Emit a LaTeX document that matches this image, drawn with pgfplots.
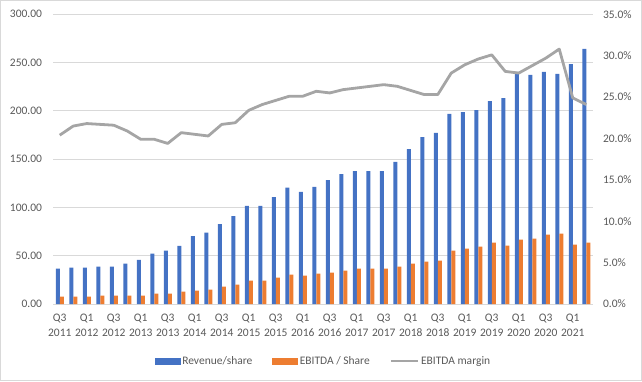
\documentclass[border=0pt]{standalone}
\usepackage{pgfplots}
\usepackage{pgfplotstable}
\pgfplotsset{compat=1.18}
\usepackage{fontspec}
\setmainfont{Carlito}
\definecolor{blueC}{HTML}{4472C4}
\definecolor{orangeC}{HTML}{ED7D31}
\definecolor{grayC}{HTML}{A5A5A5}
\definecolor{gridC}{HTML}{D9D9D9}
\definecolor{txtC}{HTML}{595959}

\pgfplotstableread{
x rev ebitda margin
1 36.6 7.6 20.4
2 37.6 7.6 21.5
3 37.6 7.6 21.8
4 38.7 8.6 21.7
5 38.7 8.6 21.6
6 41.8 8.6 20.9
7 45.6 8.6 19.9
8 52.1 10.7 19.9
9 55.2 10.7 19.4
10 60.1 12.8 20.7
11 70.4 13.8 20.5
12 73.9 14.8 20.3
13 82.8 18.0 21.7
14 91.1 20.0 21.9
15 101.5 24.2 23.4
16 101.5 24.2 24.1
17 110.8 27.3 24.6
18 120.5 30.4 25.1
19 116.0 29.3 25.1
20 121.2 31.4 25.7
21 128.4 32.4 25.5
22 134.6 34.5 25.9
23 137.7 36.6 26.1
24 137.7 36.6 26.3
25 137.7 36.6 26.5
26 147.1 38.7 26.3
27 160.5 41.8 25.8
28 172.9 43.8 25.3
29 177.1 44.9 25.3
30 196.8 55.2 27.9
31 198.8 57.3 28.9
32 200.9 59.4 29.6
33 210.2 63.5 30.1
34 213.3 60.4 28.1
35 240.3 66.6 27.9
36 237.2 67.7 28.8
37 240.3 71.8 29.7
38 238.2 72.8 30.8
39 248.5 61.4 24.9
40 264.1 63.5 24.1
}\datatable

\begin{document}
\fontsize{11.5}{14}\selectfont
\begin{tikzpicture}
\draw[gridC, line width=1pt] (0.5pt,0.5pt) rectangle (641.5pt,380.5pt);
\useasboundingbox (0pt,0pt) rectangle (642pt,381pt);
\pgfplotsset{
  every axis/.append style={
    scale only axis, width=540pt, height=289.7pt,
    at={(53pt,77pt)}, anchor=south west,
    xmin=0.5, xmax=40.5,
    major tick length=0pt,
    tick label style={font=\fontsize{11.5}{14}\selectfont, text=txtC},
    /pgf/number format/assume math mode=true,
  }
}
\begin{axis}[
  ymin=0, ymax=300, ytick={0,50,...,300},
  yticklabel={\pgfmathprintnumber[fixed,fixed zerofill,precision=2]{\tick}},
  yticklabel style={xshift=-7pt},
  axis x line*=bottom, axis y line*=left,
  y axis line style={draw=none},
  x axis line style={gridC, line width=0.8pt},
  ymajorgrids, grid style={gridC, line width=0.8pt},
  xtick={1,3,...,39},
  xticklabels={Q3\\2011,Q1\\2012,Q3\\2012,Q1\\2013,Q3\\2013,Q1\\2014,Q3\\2014,Q1\\2015,Q3\\2015,Q1\\2016,Q3\\2016,Q1\\2017,Q3\\2017,Q1\\2018,Q3\\2018,Q1\\2019,Q3\\2019,Q1\\2020,Q3\\2020,Q1\\2021},
  xticklabel style={align=center, yshift=-6pt, font=\fontsize{11.5}{15}\selectfont},
  ybar, bar width=4pt,
]
\addplot[ybar, fill=blueC, draw=none, bar shift=-2pt] table[x=x, y=rev] {\datatable};
\addplot[ybar, fill=orangeC, draw=none, bar shift=2pt] table[x=x, y=ebitda] {\datatable};
\end{axis}
\begin{axis}[
  ymin=0, ymax=35, ytick={0,5,...,35},
  yticklabel={\pgfmathprintnumber[fixed,fixed zerofill,precision=1]{\tick}\%},
  yticklabel style={xshift=6pt},
  axis y line*=right, axis x line=none,
  y axis line style={draw=none},
  legend style={at={(0.501,-0.197)}, anchor=center, draw=none, fill=none,
    legend columns=3, font=\fontsize{11.5}{14}\selectfont, text=txtC,
    /tikz/every even column/.append style={column sep=18pt},
    inner sep=0pt},
  legend cell align=left,
]
\addlegendimage{legend image code/.code={\fill[blueC] (0pt,-3pt) rectangle (25pt,3pt);}}
\addlegendentry{Revenue/share}
\addlegendimage{legend image code/.code={\fill[orangeC] (0pt,-3pt) rectangle (25pt,3pt);}}
\addlegendentry{EBITDA / Share}
\addlegendimage{legend image code/.code={\draw[grayC, line width=2.2pt] (0pt,0pt) -- (27pt,0pt);}}
\addlegendentry{EBITDA margin}
\addplot[grayC, line width=2.8pt, mark=none, line join=round, forget plot] table[x=x, y=margin] {\datatable};
\end{axis}
\end{tikzpicture}
\end{document}
